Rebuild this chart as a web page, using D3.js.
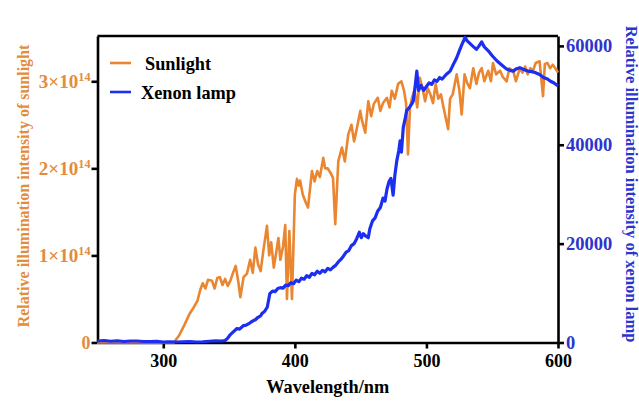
<!DOCTYPE html>
<html><head><meta charset="utf-8">
<script src="https://cdn.jsdelivr.net/npm/d3@7"></script>
<style>
html,body{margin:0;padding:0;background:#fff;}
svg{display:block;font-family:"Liberation Serif","Times New Roman",serif;font-weight:bold;}
</style></head>
<body><svg id="c" width="639" height="403"></svg>
<script>
// Wavelength (nm) for sunlight samples and sunlight intensity (x1e14)
const sunWl = [250,260,280,300,308,312,316,320,323,326,328,330,332,334,337,339,341,343,345,347,349,351,353,355,357,358.6,361,363.6,366,368,370,372,374,376,378.8,380.5,382,384,386,387.5,389,391,392.7,394,395.8,397.8,400,401.6,403,404,406,408,410,413,415,417,419,421.6,423,425,427,429,430.7,433,435.8,438,440.6,443,445,447,449.7,451,453.5,455.8,458,460,463,465,467,470,472,473.6,476,478.5,481,483,484.5,486,487.5,489,491,493,495,497,499,501,503,505,507,509,511,513,516.5,518,520,523,525,526.8,529,531,533,535.6,538,540,542,544,547,549,550.6,553,556,558,561,563,566,568,571,573,575,577,579,581,583,586,588.6,590,592,594,596,598,600];
const sunVal = [0,0,0,0,0,0.08,0.2,0.33,0.4,0.48,0.6,0.68,0.62,0.72,0.71,0.62,0.74,0.75,0.66,0.73,0.65,0.71,0.8,0.88,0.7,0.52,0.75,0.79,0.95,0.8,1.09,0.9,0.82,1.05,1.34,1.0,1.15,0.86,1.05,1.2,0.95,1.1,1.35,0.5,1.28,0.5,1.7,1.88,1.8,1.86,1.7,1.62,1.55,1.97,1.85,1.97,1.9,2.12,2.0,2.0,1.95,1.89,1.36,2.08,2.24,2.08,2.39,2.5,2.31,2.45,2.66,2.55,2.41,2.77,2.6,2.74,2.81,2.66,2.75,2.81,2.7,2.89,2.8,2.97,3.0,2.89,2.75,2.16,2.7,2.81,2.9,2.7,3.04,2.92,2.77,2.92,2.85,2.75,2.97,2.8,2.85,2.7,2.45,2.8,2.85,3.08,2.9,2.62,3.08,2.98,2.92,3.15,2.97,3.1,3.15,3.0,3.12,3.0,3.21,3.08,3.12,3.05,3.0,3.15,3.12,3.0,3.15,3.1,3.17,3.08,3.15,3.12,3.21,3.23,2.83,3.2,3.21,3.15,3.19,3.15,3.1];
// Wavelength (nm) for xenon samples and xenon intensity
const xeWl = [250,255,260,265,270,275,280,285,290,295,300,305,310,315,320,325,330,335,340,344,347,349,351,353,356,358,361,363,365,367,368.6,370,372,374,375,377,379,380,381,383,385,387,389,391,393,395,397,399,401,403,405,407,409,411,413,415,417,419,421,423,425,427,429,431,433,435,437,439,441,443,445,447,449,450.5,452,454,455.8,457,459,461,463,465,467,468.5,470,471.5,473,474.7,476,477.5,479,480,481,482.4,484,485,487,489,490,491.5,492.7,494,496,498,500,502,504,506,508,510,512,515,518,520,523,525,527,529.4,531,533,535,538,540,542,544,547,550,553.5,557,561,564,566,568,571,574,577,580,582.5,586,589,592,594,597,600];
const xeVal = [300,400,250,350,200,300,300,200,200,250,100,150,100,150,200,100,150,250,350,300,400,900,1600,2100,2830,2700,3430,3500,3800,4200,4440,4600,5100,5400,5850,6300,7130,8500,9900,10400,10300,10900,11100,11000,11600,11500,12100,11900,12600,12300,13000,12800,13500,13200,14000,13700,14400,14000,14600,14300,15000,14700,15200,15600,16300,16800,17500,18300,18600,19600,20000,21000,22300,21200,22000,21500,21200,23000,24600,25200,26600,27300,29200,28600,31000,32500,33200,29800,33800,36800,38800,40800,38500,43500,45500,46900,47500,48300,48900,52000,54900,51000,52000,51000,51800,52500,52200,53100,52800,53600,53300,54200,54900,56000,57600,59000,60300,61700,61000,60500,60000,59300,60000,60800,59800,59000,58000,57000,56200,55300,55000,54900,55300,55600,55200,54900,54800,54600,54200,53600,53300,52900,52500,51900];
const xTicks = [300,400,500,600];
const leftTicks = [0,1e14,2e14,3e14];
const rightTicks = [0,20000,40000,60000];
const seriesNames = ["Sunlight","Xenon lamp"];

const ORANGE = "#EA8530", ORANGE_T = "#E38C3C", BLUE = "#1C2EF0", BLUE_T = "#2B35CE";
const svg = d3.select("#c");
const L = 97.5, R = 558, T = 36, B = 342.5;

const x = d3.scaleLinear().domain([250,600]).range([L,R]);
const yL = d3.scaleLinear().domain([0,3.52e14]).range([B,T]);
const yR = d3.scaleLinear().domain([0,62000]).range([B,T]);

const sun = sunWl.map((w,i)=>({w, v: sunVal[i]*1e14}));
const xe = xeWl.map((w,i)=>({w, v: xeVal[i]}));

svg.append("line").attr("x1",L).attr("x2",R).attr("y1",T).attr("y2",T)
  .attr("stroke","#000").attr("stroke-width",2.6);

function styleAxis(g, color, fs){
  g.select(".domain").attr("stroke","#000").attr("stroke-width",2.6);
  g.selectAll(".tick line").attr("stroke","#000").attr("stroke-width",2.6);
  g.selectAll(".tick text").attr("fill",color).attr("font-size",fs)
    .attr("font-family","Liberation Serif, Times New Roman, serif").attr("font-weight","bold");
}

const gx = svg.append("g").attr("transform",`translate(0,${B})`)
  .call(d3.axisBottom(x).tickValues(xTicks).tickSize(6).tickPadding(6).tickSizeOuter(0));
styleAxis(gx,"#000",18);

const gl = svg.append("g").attr("transform",`translate(${L},0)`)
  .call(d3.axisLeft(yL).tickValues(leftTicks).tickSize(6).tickPadding(1).tickSizeOuter(0).tickFormat(()=>""));
styleAxis(gl,ORANGE_T,18);
gl.selectAll(".tick text").each(function(d){
  const t = d3.select(this);
  if (d===0){ t.text("0"); return; }
  const m = Math.round(d/1e14);
  const a = t.append("tspan").text(m+"×10");
  const b = t.append("tspan").text("14").attr("font-size",11.5).attr("dy",-7);
  const w = this.getBBox().width;
  const k = 52/w;
  a.attr("font-size",18*k);
  b.attr("font-size",11.5*k);
});

const gr = svg.append("g").attr("transform",`translate(${R},0)`)
  .call(d3.axisRight(yR).tickValues(rightTicks).tickSize(6).tickPadding(2).tickSizeOuter(0).tickFormat(d3.format("d")));
styleAxis(gr,BLUE_T,18.5);

const lineSun = d3.line().x(d=>x(d.w)).y(d=>yL(d.v));
const lineXe = d3.line().x(d=>x(d.w)).y(d=>yR(d.v));
svg.append("path").datum(sun).attr("d",lineSun).attr("fill","none")
  .attr("stroke",ORANGE).attr("stroke-width",2.6).attr("stroke-linejoin","round");
svg.append("path").datum(xe).attr("d",lineXe).attr("fill","none")
  .attr("stroke",BLUE).attr("stroke-width",3.2).attr("stroke-linejoin","round");

svg.append("text").attr("x",(L+R)/2).attr("y",393).attr("text-anchor","middle")
  .attr("font-size",18.3).attr("fill","#000").text("Wavelength/nm");
svg.append("text").attr("transform","translate(23,186) rotate(-90)").attr("text-anchor","middle")
  .attr("dominant-baseline","central").attr("font-size",16).attr("fill",ORANGE_T)
  .text("Relative illumination intensity of sunlight");
svg.append("text").attr("transform","translate(631,184) rotate(90)").attr("text-anchor","middle")
  .attr("dominant-baseline","central").attr("font-size",16.5).attr("fill",BLUE_T)
  .text("Relative illumination intensity of xenon lamp");

const leg = [{name:seriesNames[0],c:ORANGE,y:63,tx:145},{name:seriesNames[1],c:BLUE,y:92,tx:141}];
leg.forEach(e=>{
  svg.append("line").attr("x1",110).attr("x2",131).attr("y1",e.y).attr("y2",e.y)
    .attr("stroke",e.c).attr("stroke-width",2.6);
  svg.append("text").attr("x",e.tx).attr("y",e.y+7).attr("font-size",18.3).attr("fill","#000").text(e.name);
});
</script></body></html>
